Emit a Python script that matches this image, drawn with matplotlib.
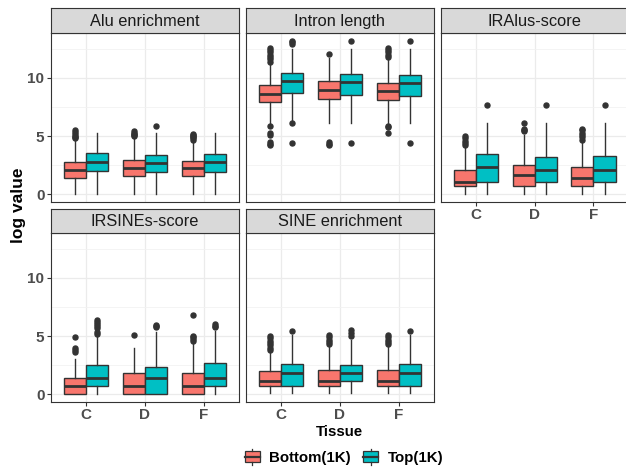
import matplotlib
matplotlib.use("Agg")
import matplotlib.pyplot as plt
from matplotlib.legend_handler import HandlerBase
from matplotlib.patches import Rectangle
from matplotlib.lines import Line2D

plt.rcParams['font.family'] = ['Liberation Sans', 'DejaVu Sans']

# ---------------- data ----------------
panels = ["Alu enrichment", "Intron length", "IRAlus-score", "IRSINEs-score", "SINE enrichment"]
tissues = ["C", "D", "F"]
groups = ["Bottom(1K)", "Top(1K)"]
group_colors = ["#F8766D", "#00BFC4"]

# [whislo, q1, median, q3, whishi] per tissue
alu_bottom = [[0, 1.37, 2.09, 2.74, 4.70], [0, 1.60, 2.29, 2.91, 4.95], [0, 1.60, 2.29, 2.83, 4.65]]
alu_top = [[0, 2.03, 2.80, 3.51, 5.31], [0, 1.94, 2.71, 3.40, 5.30], [0, 1.94, 2.74, 3.43, 5.30]]
alu_bottom_out = [[4.8, 4.9, 5.0, 5.2, 5.35, 5.5], [5.0, 5.1, 5.2, 5.3, 5.4], [4.7, 4.8, 4.9, 5.0, 5.1, 5.2]]
alu_top_out = [[], [5.83], []]

intron_bottom = [[6.10, 7.97, 8.66, 9.40, 11.3], [6.17, 8.20, 9.00, 9.74, 11.7], [6.10, 8.11, 8.89, 9.60, 11.6]]
intron_top = [[6.35, 8.71, 9.74, 10.43, 12.46], [6.17, 8.57, 9.66, 10.34, 12.46], [6.17, 8.49, 9.57, 10.29, 12.46]]
intron_bottom_out = [[11.4, 11.6, 11.8, 12.0, 12.2, 12.4, 12.6, 5.86, 5.3, 5.1, 4.5, 4.35, 4.2],
                     [12.03, 4.5, 4.35, 4.2],
                     [11.8, 12.0, 12.2, 12.4, 12.6, 5.9, 5.8, 5.3]]
intron_top_out = [[12.95, 13.1, 13.2, 6.17, 4.37], [13.2, 4.37], [13.14, 4.37]]

iralus_bottom = [[0, 0.71, 1.09, 2.09, 4.09], [0, 0.71, 1.66, 2.51, 5.09], [0, 0.71, 1.43, 2.31, 4.66]]
iralus_top = [[0, 1.09, 2.31, 3.43, 6.09], [0, 1.09, 2.09, 3.23, 6.09], [0, 1.09, 2.09, 3.31, 6.09]]
iralus_bottom_out = [[4.2, 4.4, 4.6, 4.8, 5.0], [5.4, 5.5, 5.6, 6.14], [4.7, 4.9, 5.1, 5.3, 5.5, 5.6]]
iralus_top_out = [[7.66], [7.66], [7.66]]

irsines_bottom = [[0, 0, 0.74, 1.40, 3.02], [0, 0, 0.74, 1.82, 4.02], [0, 0, 0.74, 1.82, 4.44]]
irsines_top = [[0, 0.68, 1.40, 2.51, 5.10], [0, 0, 1.40, 2.31, 5.36], [0, 0.68, 1.40, 2.65, 5.44]]
irsines_bottom_out = [[3.65, 3.8, 3.95, 4.93], [5.07], [4.6, 4.75, 4.9, 5.0, 6.81]]
irsines_top_out = [[5.2, 5.35, 5.7, 5.85, 6.0, 6.2, 6.4], [5.75, 5.85, 5.95], [5.75, 5.9, 6.05]]

sine_bottom = [[0.1, 0.68, 1.11, 1.97, 3.73], [0.1, 0.68, 1.11, 2.11, 4.16], [0.1, 0.68, 1.11, 2.11, 4.16]]
sine_top = [[0.1, 0.68, 1.82, 2.62, 5.10], [0.1, 1.11, 1.82, 2.56, 4.64], [0.1, 0.68, 1.82, 2.62, 5.10]]
sine_bottom_out = [[3.8, 4.0, 4.2, 4.4, 4.6, 4.8, 5.0], [4.3, 4.5, 4.7, 4.9, 5.07], [4.3, 4.5, 4.7, 4.9, 5.1]]
sine_top_out = [[5.44], [5.0, 5.3, 5.55], [5.44]]

y_ticks = [0, 5, 10]
y_minor = [2.5, 7.5, 12.5]

panel_stats = [
    (alu_bottom, alu_top, alu_bottom_out, alu_top_out),
    (intron_bottom, intron_top, intron_bottom_out, intron_top_out),
    (iralus_bottom, iralus_top, iralus_bottom_out, iralus_top_out),
    (irsines_bottom, irsines_top, irsines_bottom_out, irsines_top_out),
    (sine_bottom, sine_top, sine_bottom_out, sine_top_out),
]

# ---------------- layout ----------------
W, H = 626, 471
fig = plt.figure(figsize=(W / 100, H / 100), dpi=100)


def rect(x0, x1, y0, y1):
    return [x0 / W, 1 - y1 / H, (x1 - x0) / W, (y1 - y0) / H]


col_left = [50.7, 245.7, 440.5]
pw = 188.3
rows = [(8, 33, 202), (209, 233, 402)]
positions = [(0, 0), (0, 1), (0, 2), (1, 0), (1, 1)]
show_x = [False, False, True, True, True]

dark = "#333333"
tickc = "#4D4D4D"
offset = 0.1875
bw = 0.375

for i, name in enumerate(panels):
    r, c = positions[i]
    st, sb, pb = rows[r]
    x0 = col_left[c]
    x1 = x0 + pw
    ax = fig.add_axes(rect(x0, x1, sb, pb))
    sax = fig.add_axes(rect(x0, x1, st, sb))
    # strip
    sax.set_facecolor("#D9D9D9")
    sax.set_xticks([]); sax.set_yticks([])
    for s in sax.spines.values():
        s.set_color(dark); s.set_linewidth(0.8)
    sax.text(0.5, 0.47, name, ha="center", va="center", fontsize=11.8, color="#1A1A1A",
             transform=sax.transAxes)

    bottom, top, bottom_out, top_out = panel_stats[i]
    for g, (vals, outs) in enumerate([(bottom, bottom_out), (top, top_out)]):
        stats = []
        for t in range(len(tissues)):
            lo, q1, med, q3, hi = vals[t]
            stats.append(dict(whislo=lo, q1=q1, med=med, q3=q3, whishi=hi, fliers=outs[t]))
        pos = [t + 1 + (offset if g == 1 else -offset) for t in range(len(tissues))]
        ax.bxp(stats, positions=pos, widths=bw, patch_artist=True, showcaps=False,
               manage_ticks=False,
               boxprops=dict(facecolor=group_colors[g], edgecolor=dark, linewidth=1.0),
               whiskerprops=dict(color=dark, linewidth=1.0),
               medianprops=dict(color=dark, linewidth=2.0, solid_capstyle="butt"),
               flierprops=dict(marker="o", markerfacecolor=dark, markeredgecolor=dark,
                               markersize=3.6, linestyle="none"))

    ax.set_xlim(0.4, 3.6)
    ax.set_ylim(-0.66, 13.86)
    ax.set_facecolor("white")
    ax.set_xticks([1, 2, 3])
    ax.set_yticks(y_ticks)
    ax.set_yticks(y_minor, minor=True)
    ax.grid(True, which="major", color="#EBEBEB", linewidth=0.9)
    ax.grid(True, which="minor", axis="y", color="#F2F2F2", linewidth=0.6)
    ax.set_axisbelow(True)
    for s in ax.spines.values():
        s.set_color(dark); s.set_linewidth(0.8)
    ax.tick_params(axis="both", which="major", length=2.75, width=0.8, color=dark, pad=1.8)
    ax.tick_params(axis="y", which="minor", length=0)
    if show_x[i]:
        ax.set_xticklabels(tissues, fontsize=11, fontweight="bold", color=tickc)
    else:
        ax.set_xticklabels([])
        ax.tick_params(axis="x", length=0)
    if c == 0:
        ax.set_yticklabels([str(v) for v in y_ticks], fontsize=11, fontweight="bold", color=tickc)
    else:
        ax.set_yticklabels([])
        ax.tick_params(axis="y", length=0)

fig.text(18.3 / W, 1 - 205 / H, "log value", rotation=90, ha="center", va="center",
         fontsize=12.5, fontweight="bold", color="black")
fig.text(339.6 / W, 1 - 432 / H, "Tissue", ha="center", va="center",
         fontsize=10.8, fontweight="bold", color="black")


class BoxHandler(HandlerBase):
    def create_artists(self, legend, orig_handle, xdescent, ydescent, width, height, fontsize, trans):
        x0, y0 = -xdescent, -ydescent
        box = Rectangle((x0, y0 + 0.15 * height), width, 0.7 * height,
                        facecolor=orig_handle.get_facecolor(), edgecolor=dark, linewidth=0.9,
                        transform=trans)
        xm = x0 + width / 2
        w1 = Line2D([xm, xm], [y0, y0 + 0.15 * height], color=dark, linewidth=0.9, transform=trans)
        w2 = Line2D([xm, xm], [y0 + 0.85 * height, y0 + height], color=dark, linewidth=0.9, transform=trans)
        med = Line2D([x0, x0 + width], [y0 + 0.5 * height] * 2, color=dark, linewidth=1.6, transform=trans)
        return [box, w1, w2, med]


handles = [Rectangle((0, 0), 1, 1, facecolor=col) for col in group_colors]
fig.legend(handles, groups, handler_map={Rectangle: BoxHandler()}, loc="center",
           bbox_to_anchor=(344 / W, 1 - 457 / H), ncol=2, frameon=False,
           prop=dict(size=10.8, weight="bold"), handlelength=1.0, handleheight=1.2,
           handletextpad=0.65, columnspacing=0.8, borderpad=0)

fig.savefig("out.png", dpi=100)
